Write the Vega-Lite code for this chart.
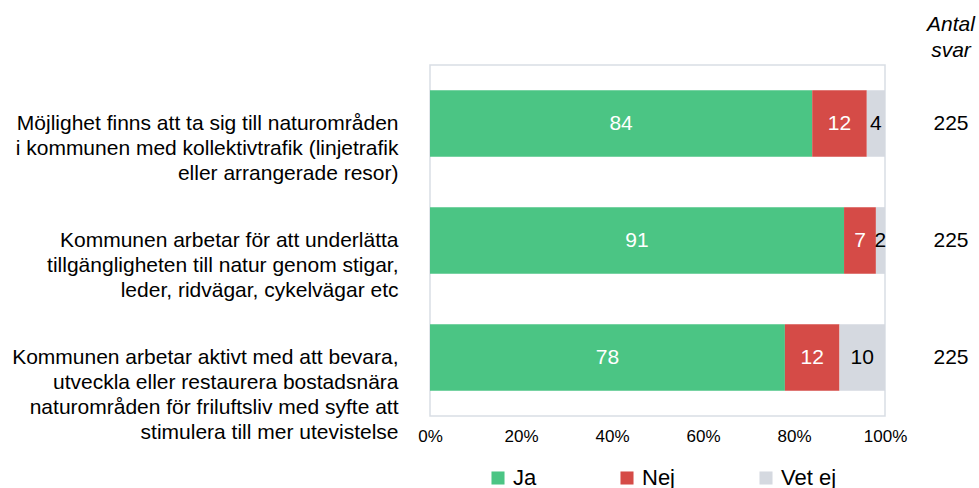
{
  "$schema": "https://vega.github.io/schema/vega-lite/v6.json",
  "width": 455,
  "height": 351,
  "autosize": {"type": "none"},
  "padding": {"left": 430, "top": 65, "right": 94, "bottom": 72},
  "config": {
    "font": "Liberation Sans",
    "view": {"stroke": "#D9DEE5", "strokeWidth": 1.5},
    "text": {"font": "Liberation Sans"}
  },
  "title": {
    "text": ["Antal", "svar"],
    "anchor": "end",
    "frame": "group",
    "align": "center",
    "orient": "top",
    "fontSize": 21,
    "fontStyle": "italic",
    "fontWeight": "normal",
    "font": "Liberation Sans",
    "color": "#000000",
    "lineHeight": 26,
    "dx": 66,
    "offset": 4
  },
  "datasets": {
    "answers": [
      {"q": "Möjlighet finns att ta sig till naturområden|i kommunen med kollektivtrafik (linjetrafik|eller arrangerade resor)", "answer": "Ja", "order": 1, "value": 84},
      {"q": "Möjlighet finns att ta sig till naturområden|i kommunen med kollektivtrafik (linjetrafik|eller arrangerade resor)", "answer": "Nej", "order": 2, "value": 12},
      {"q": "Möjlighet finns att ta sig till naturområden|i kommunen med kollektivtrafik (linjetrafik|eller arrangerade resor)", "answer": "Vet ej", "order": 3, "value": 4},
      {"q": "Kommunen arbetar för att underlätta|tillgängligheten till natur genom stigar,|leder, ridvägar, cykelvägar etc", "answer": "Ja", "order": 1, "value": 91},
      {"q": "Kommunen arbetar för att underlätta|tillgängligheten till natur genom stigar,|leder, ridvägar, cykelvägar etc", "answer": "Nej", "order": 2, "value": 7},
      {"q": "Kommunen arbetar för att underlätta|tillgängligheten till natur genom stigar,|leder, ridvägar, cykelvägar etc", "answer": "Vet ej", "order": 3, "value": 2},
      {"q": "Kommunen arbetar aktivt med att bevara,|utveckla eller restaurera bostadsnära|naturområden för friluftsliv med syfte att|stimulera till mer utevistelse", "answer": "Ja", "order": 1, "value": 78},
      {"q": "Kommunen arbetar aktivt med att bevara,|utveckla eller restaurera bostadsnära|naturområden för friluftsliv med syfte att|stimulera till mer utevistelse", "answer": "Nej", "order": 2, "value": 12},
      {"q": "Kommunen arbetar aktivt med att bevara,|utveckla eller restaurera bostadsnära|naturområden för friluftsliv med syfte att|stimulera till mer utevistelse", "answer": "Vet ej", "order": 3, "value": 10}
    ],
    "counts": [
      {"q": "Möjlighet finns att ta sig till naturområden|i kommunen med kollektivtrafik (linjetrafik|eller arrangerade resor)", "n": 225},
      {"q": "Kommunen arbetar för att underlätta|tillgängligheten till natur genom stigar,|leder, ridvägar, cykelvägar etc", "n": 225},
      {"q": "Kommunen arbetar aktivt med att bevara,|utveckla eller restaurera bostadsnära|naturområden för friluftsliv med syfte att|stimulera till mer utevistelse", "n": 225}
    ]
  },
  "data": {"name": "answers"},
  "encoding": {
    "y": {
      "field": "q",
      "type": "nominal",
      "sort": null,
      "title": null,
      "scale": {"paddingInner": 0.43, "paddingOuter": 0.215},
      "axis": {
        "domain": false,
        "ticks": false,
        "labelPadding": 32,
        "labelFontSize": 21,
        "labelColor": "#000000",
        "labelLineHeight": 25,
        "labelLimit": 500,
        "labelExpr": "split(datum.label, '|')"
      }
    }
  },
  "layer": [
    {
      "mark": {"type": "bar"},
      "encoding": {
        "x": {
          "field": "value",
          "type": "quantitative",
          "stack": "normalize",
          "scale": {"domain": [0, 1]},
          "title": null,
          "axis": {
            "format": ".0%",
            "values": [0, 0.2, 0.4, 0.6, 0.8, 1],
            "grid": false,
            "domain": false,
            "ticks": false,
            "labelFlush": false,
            "labelPadding": 12,
            "labelFontSize": 17,
            "labelColor": "#000000"
          }
        },
        "color": {
          "field": "answer",
          "type": "nominal",
          "sort": ["Ja", "Nej", "Vet ej"],
          "scale": {"domain": ["Ja", "Nej", "Vet ej"], "range": ["#4BC584", "#D54B47", "#D5D9E0"]},
          "legend": {
            "title": null,
            "orient": "none",
            "direction": "horizontal",
            "legendX": 57,
            "legendY": 402,
            "symbolType": "square",
            "symbolSize": 170,
            "symbolStrokeWidth": 0,
            "labelFontSize": 22,
            "labelColor": "#000000",
            "labelOffset": 4,
            "columnPadding": 79
          }
        },
        "order": {"field": "order", "type": "quantitative"}
      }
    },
    {
      "mark": {"type": "text", "fontSize": 21, "align": "center", "baseline": "middle"},
      "encoding": {
        "x": {"field": "value", "type": "quantitative", "stack": "normalize", "bandPosition": 0.5},
        "detail": {"field": "answer"},
        "order": {"field": "order", "type": "quantitative"},
        "text": {"field": "value", "type": "quantitative"},
        "color": {"condition": {"test": "datum.answer === 'Vet ej'", "value": "#000000"}, "value": "#FFFFFF"}
      }
    },
    {
      "data": {"name": "counts"},
      "mark": {"type": "text", "fontSize": 21, "align": "center", "baseline": "middle", "color": "#000000"},
      "encoding": {
        "x": {"datum": 1.145, "type": "quantitative"},
        "text": {"field": "n", "type": "quantitative"}
      }
    }
  ]
}
